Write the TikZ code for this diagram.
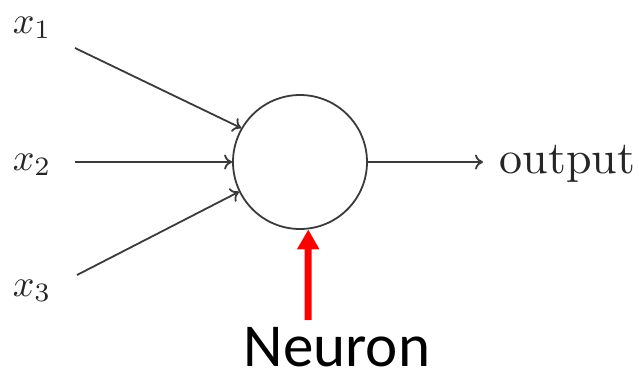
\documentclass[tikz,border=0pt]{standalone}
\usepackage{fontspec}
\newfontfamily\calibri{Carlito}
\usetikzlibrary{arrows.meta}
\definecolor{linegray}{HTML}{3A3A3A}
\tikzset{
  conn/.style={draw=linegray, line width=1.8pt, -{Computer Modern Rightarrow[length=8pt,width=15pt]}},
  inlabel/.style={inner sep=0pt, anchor=base west, text=black!85, scale=3.8},
  neuronc/.style={circle, draw=linegray, line width=1.8pt, minimum size=134pt, inner sep=0pt},
  redarrow/.style={draw=red, line width=7pt, -{Triangle[length=20pt,width=21pt]}}
}
\begin{document}
\begin{tikzpicture}[x=1pt,y=-1pt]
\useasboundingbox (0,0) rectangle (639,376);
\node[neuronc] (n) at (300,162) {};
\node[inlabel] (x1) at (12,33) {$x_1$};
\node[inlabel] (x2) at (12,170) {$x_2$};
\node[inlabel] (x3) at (12,296) {$x_3$};
\coordinate (s1) at (75,48);
\coordinate (s2) at (75,162);
\coordinate (s3) at (77,275);
\draw[conn] (s1) -- (n.150.5);
\draw[conn] (s2) -- (n.west);
\draw[conn] (s3) -- (n.206.6);
\node[inner sep=0pt, anchor=base west, text=black!85, scale=4.6] (out) at (499,173) {output};
\draw[conn] (n.east) -- ([xshift=-16pt]n.east -| out.west);
\node[inner sep=0pt, anchor=base, scale=6.1, font=\calibri] (lab) at (337,366) {Neuron};
\coordinate (rs) at (308,320);
\draw[redarrow] (rs) -- (n.277);
\end{tikzpicture}
\end{document}
